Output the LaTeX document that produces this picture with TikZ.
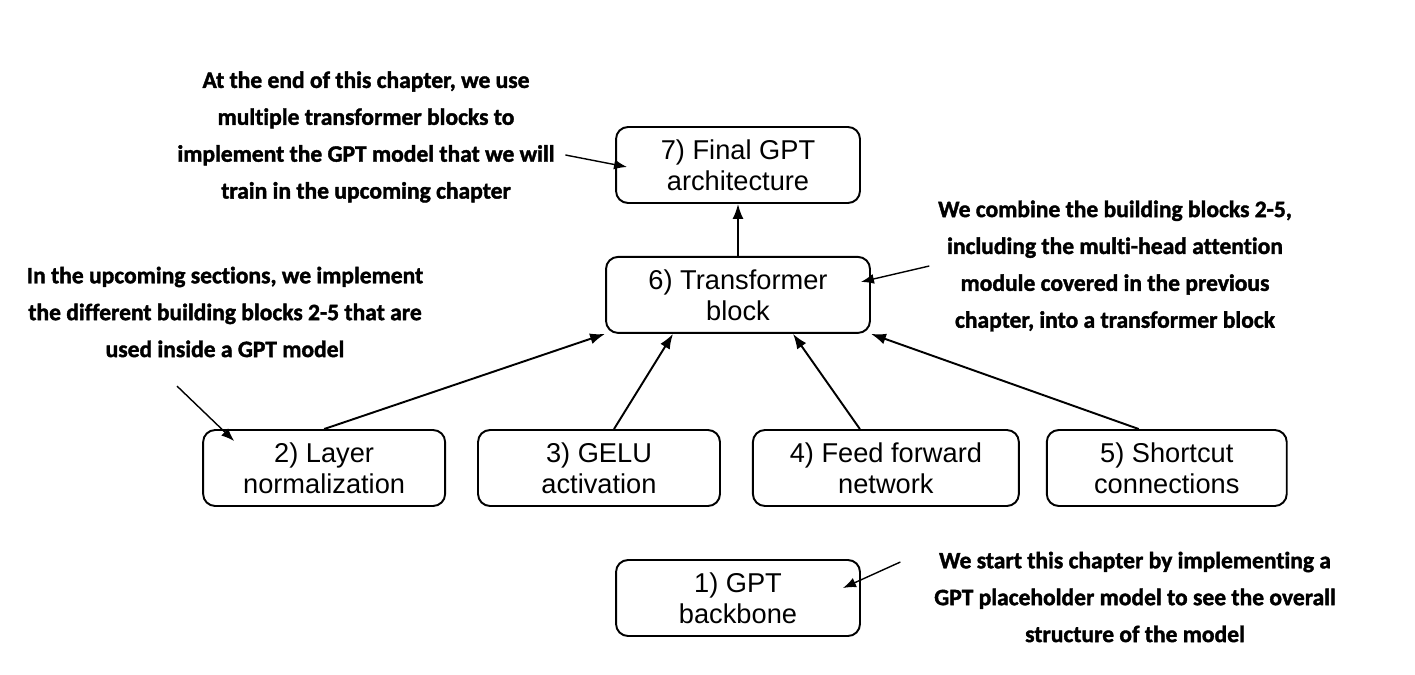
\documentclass[tikz,border=0pt]{standalone}
\usepackage{fontspec}
\setmainfont{Liberation Sans}
\newfontfamily\notefamily[Ligatures=NoCommon, BoldFeatures={FakeBold=1.6}]{Carlito}
\usepackage{tikz}
\usetikzlibrary{positioning, arrows.meta}
\tikzset{
    block/.style={rectangle, rounded corners=0.24cm, draw=black, line width=1.1pt, minimum width=4.88cm, minimum height=1.52cm, align=center, font=\fontsize{15.5}{17.6}\selectfont},
    note/.style={align=center, inner sep=2pt, font=\notefamily\bfseries\fontsize{13.4}{21}\selectfont},
    link/.style={-{Latex[length=3mm,width=2.2mm]}, line width=1.1pt},
    hint/.style={-{Latex[length=2.6mm,width=2mm]}, line width=0.8pt},
}

\begin{document}
\begin{tikzpicture}[x=0.02cm, y=-0.02cm]
        \useasboundingbox (0,0) rectangle (1415,675);
        \node [block] (final) at (738,165) {7) Final GPT\\architecture};
        \node [block, minimum width=5.28cm] (trans) [below=1.04cm of final] {6) Transformer\\block};
        \node [block, minimum width=4.84cm] (gelu) at (599,468) {3) GELU\\activation};
        \node [block, minimum width=4.84cm] (norm) [left=0.62cm of gelu] {2) Layer\\normalization};
        \node [block, minimum width=5.32cm] (ffn) [right=0.62cm of gelu] {4) Feed forward\\network};
        \node [block, minimum width=4.8cm] (short) [right=0.52cm of ffn] {5) Shortcut\\connections};
        \node [block] (backbone) at (738,598) {1) GPT\\backbone};
        % annotations
        \node [note] (nfinal) at (366,137) {At the end of this chapter, we use\\multiple transformer blocks to\\implement the GPT model that we will\\train in the upcoming chapter};
        \node [note] (ntrans) at (1115,266) {We combine the building blocks 2-5,\\including the multi-head attention\\module covered in the previous\\chapter, into a transformer block};
        \node [note] (nparts) at (225,312) {In the upcoming sections, we implement\\the different building blocks 2-5 that are\\used inside a GPT model};
        \node [note] (nback) at (1135,597) {We start this chapter by implementing a\\GPT placeholder model to see the overall\\structure of the model};
        \draw[link] (trans) -- (final);
        \draw[link] (norm.north) -- (trans.south west);
        \draw[link] ([xshift=0.3cm]gelu.north) -- ([xshift=-1.3cm]trans.south);
        \draw[link] ([xshift=-0.52cm]ffn.north) -- ([xshift=1.1cm]trans.south);
        \draw[link] ([xshift=-0.56cm]short.north) -- (trans.south east);
        \draw[hint] ([xshift=0.14cm,yshift=-0.36cm]nfinal.east) -- ([xshift=0.24cm,yshift=-0.04cm]final.west);
        \draw[hint] ([xshift=-0.1cm]ntrans.west) -- ([xshift=-0.2cm,yshift=0.26cm]trans.east);
        \draw[hint] ([xshift=-0.96cm,yshift=-0.5cm]nparts.south) -- ([xshift=0.64cm,yshift=-0.24cm]norm.north west);
        \draw[hint] ([xshift=-0.6cm,yshift=0.7cm]nback.west) -- ([xshift=-0.36cm,yshift=0.2cm]backbone.east);
    \end{tikzpicture}
\end{document}
